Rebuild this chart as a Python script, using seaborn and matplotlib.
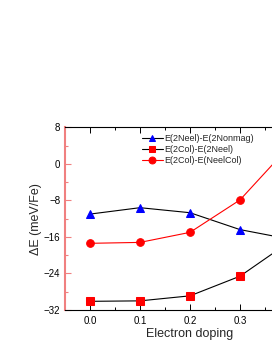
import numpy as np
import pandas as pd
import seaborn as sns
import matplotlib.pyplot as plt
from matplotlib.ticker import MultipleLocator

sns.set_style("white")
plt.rcParams['font.family'] = ['Liberation Sans', 'DejaVu Sans']

doping = [0.0, 0.1, 0.2, 0.3, 0.4]
neel_nonmag = [-11.0, -9.6, -10.7, -14.4, -16.5]   # 파란 삼각형
col_neel = [-30.1, -30.0, -28.9, -24.6, -17.0]     # 빨간 사각형
col_neelcol = [-17.4, -17.2, -15.0, -7.9, 4.0]     # 빨간 원

labels = ['E(2Neel)-E(2Nonmag)', 'E(2Col)-E(2Neel)', 'E(2Col)-E(NeelCol)']

df = pd.DataFrame({'doping': doping * 3,
                   'dE': neel_nonmag + col_neel + col_neelcol,
                   'series': [labels[0]] * 5 + [labels[1]] * 5 + [labels[2]] * 5})

fig = plt.figure(figsize=(2.72, 3.52), dpi=100)
ax = fig.add_axes([65/272, 1 - 310/352, 250/272, (310 - 127.3)/352])

styles = [('black', 'blue', '^'), ('black', 'red', 's'), ('red', 'red', 'o')]
for lab, (lc, mc, mk) in zip(labels, styles):
    sub = df[df['series'] == lab]
    sns.lineplot(data=sub, x='doping', y='dE', ax=ax, color=lc, lw=0.8,
                 marker=mk, markersize=5.5, markerfacecolor=mc, markeredgecolor=mc,
                 label=lab)

ax.set_xlim(-0.05, 0.45)
ax.set_ylim(-32, 8)
ax.xaxis.set_major_locator(MultipleLocator(0.1))
ax.xaxis.set_minor_locator(MultipleLocator(0.05))
ax.yaxis.set_major_locator(MultipleLocator(8))
ax.yaxis.set_minor_locator(MultipleLocator(4))
# 그림 밖으로 나가는 눈금 라벨(0.4)은 비움
ax.set_xticks([0.0, 0.1, 0.2, 0.3, 0.4])
ax.set_xticklabels(['0.0', '0.1', '0.2', '0.3', ''])

for s in ['top', 'bottom']:
    ax.spines[s].set_color('black')
    ax.spines[s].set_linewidth(0.8)
ax.spines['left'].set_color('#f08080')
ax.spines['left'].set_linewidth(1.5)
ax.spines['right'].set_visible(False)

ax.tick_params(axis='x', which='both', direction='in', top=True, bottom=True,
               labelsize=7, colors='black', pad=4)
ax.tick_params(axis='x', which='major', length=4, width=0.7)
ax.tick_params(axis='x', which='minor', length=2, width=0.7)
ax.tick_params(axis='y', which='both', direction='in', left=True, color='#f08080',
               labelcolor='black', labelsize=7, width=0.8)
ax.tick_params(axis='y', which='major', length=4)
ax.tick_params(axis='y', which='minor', length=2)

ax.set_xlabel('Electron doping', fontsize=9, labelpad=2)
ax.set_ylabel('ΔE (meV/Fe)', fontsize=9, labelpad=1)

ax.legend(loc='upper left', bbox_to_anchor=(0.28, 1.0), frameon=False,
          fontsize=6.5, handlelength=2.3, handletextpad=0.2, labelspacing=0.22,
          borderaxespad=0.35, markerscale=0.9)

fig.savefig('out.png', dpi=100)
